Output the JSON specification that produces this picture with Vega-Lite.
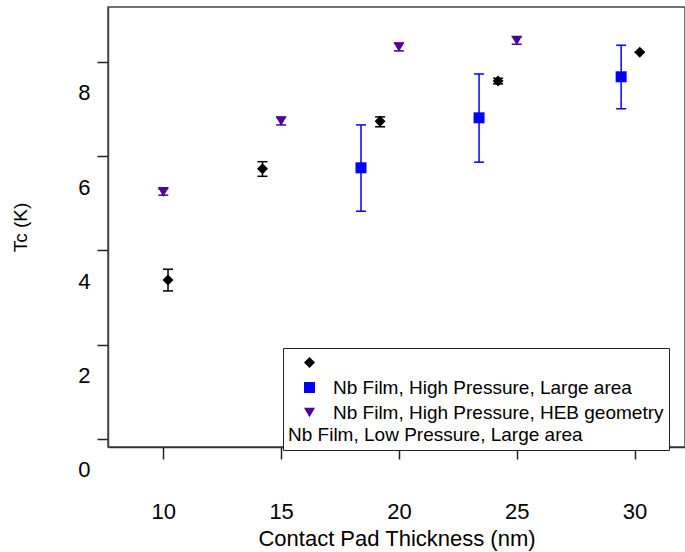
{
  "$schema": "https://vega.github.io/schema/vega-lite/v6.json",
  "width": 577,
  "height": 440,
  "autosize": {"type": "none"},
  "padding": {"left": 108, "top": 7, "right": 0, "bottom": 105},
  "background": "white",
  "config": {
    "view": {"stroke": "#444", "strokeWidth": 1.5},
    "font": "Liberation Sans",
    "legend": {
      "labelFontSize": 19,
      "labelFont": "Liberation Sans",
      "labelColor": "black",
      "labelLimit": 0,
      "titleLimit": 0
    }
  },
  "data": {
    "values": [
      {"series": "Nb Film, High Pressure, Large area", "t": 10.2, "tc": 3.37, "lo": 3.14, "hi": 3.6},
      {"series": "Nb Film, High Pressure, Large area", "t": 14.21, "tc": 5.73, "lo": 5.57, "hi": 5.88},
      {"series": "Nb Film, High Pressure, Large area", "t": 19.2, "tc": 6.74, "lo": 6.62, "hi": 6.83},
      {"series": "Nb Film, High Pressure, Large area", "t": 24.21, "tc": 7.59, "lo": 7.53, "hi": 7.65},
      {"series": "Nb Film, High Pressure, Large area", "t": 30.22, "tc": 8.2, "lo": 8.2, "hi": 8.2},
      {"series": "Nb Film, High Pressure, HEB geometry", "t": 18.39, "tc": 5.75, "lo": 4.83, "hi": 6.66},
      {"series": "Nb Film, High Pressure, HEB geometry", "t": 23.4, "tc": 6.81, "lo": 5.87, "hi": 7.74},
      {"series": "Nb Film, High Pressure, HEB geometry", "t": 29.43, "tc": 7.68, "lo": 7.0, "hi": 8.35},
      {"series": "Nb Film, Low Pressure, Large area", "t": 10, "tc": 5.24, "lo": 5.17, "hi": 5.3},
      {"series": "Nb Film, Low Pressure, Large area", "t": 15, "tc": 6.74, "lo": 6.66, "hi": 6.82},
      {"series": "Nb Film, Low Pressure, Large area", "t": 20, "tc": 8.31, "lo": 8.23, "hi": 8.39},
      {"series": "Nb Film, Low Pressure, Large area", "t": 25, "tc": 8.45, "lo": 8.37, "hi": 8.53}
    ]
  },
  "encoding": {
    "x": {"field": "t", "type": "quantitative",
      "scale": {"domain": [7.653, 32.14], "nice": false, "zero": false},
      "axis": {"orient": "bottom", "values": [10, 15, 20, 25, 30], "title": "Contact Pad Thickness (nm)",
        "grid": false, "domainColor": "#333", "domainWidth": 1.5, "tickColor": "#222", "tickWidth": 1.5, "tickSize": 12,
        "labelPadding": 52, "labelBaseline": "middle", "labelFontSize": 22, "labelColor": "black", "labelFlush": false, "labelOverlap": false,
        "titleFontSize": 22, "titleFontWeight": "normal", "titleColor": "black", "titleY": 91, "titleBaseline": "middle"}}
  },
  "layer": [
    {
      "mark": {"type": "rule", "strokeWidth": 1.5},
      "encoding": {
        "y": {"field": "lo", "type": "quantitative",
          "scale": {"domain": [-0.17, 9.16], "nice": false, "zero": false},
          "axis": {"orient": "left", "values": [0, 2, 4, 6, 8], "title": "Tc (K)",
            "grid": false, "domainColor": "#444", "domainWidth": 1.5, "tickColor": "#222", "tickWidth": 1.5, "tickSize": 11,
            "labelOffset": 31, "labelPadding": 7, "labelFontSize": 22, "labelColor": "black", "labelFlush": false, "labelOverlap": false,
            "titleFontSize": 19, "titleFontWeight": "normal", "titleColor": "black", "titleX": -88, "titleY": 220, "titleBaseline": "middle", "titleAngle": 270}},
        "y2": {"field": "hi"},
        "stroke": {"field": "series", "type": "nominal", "legend": null,
          "scale": {"domain": ["Nb Film, High Pressure, HEB geometry", "Nb Film, Low Pressure, Large area", "Nb Film, High Pressure, Large area"], "range": ["#0000ff", "#4c0099", "#000000"]}}
      }
    },
    {
      "mark": {"type": "tick", "orient": "horizontal", "size": 10, "thickness": 1.5, "opacity": 1},
      "encoding": {
        "y": {"field": "lo", "type": "quantitative"},
        "fill": {"field": "series", "type": "nominal", "legend": null,
          "scale": {"domain": ["Nb Film, Low Pressure, Large area", "Nb Film, High Pressure, Large area", "Nb Film, High Pressure, HEB geometry"], "range": ["#4c0099", "#000000", "#0000ff"]}}
      }
    },
    {
      "mark": {"type": "tick", "orient": "horizontal", "size": 10, "thickness": 1.5, "opacity": 1},
      "encoding": {
        "y": {"field": "hi", "type": "quantitative"},
        "fill": {"field": "series", "type": "nominal", "legend": null}
      }
    },
    {
      "mark": {"type": "point", "filled": true, "opacity": 1, "size": 121},
      "encoding": {
        "y": {"field": "tc", "type": "quantitative"},
        "color": {"field": "series", "type": "nominal",
          "scale": {"domain": ["Nb Film, High Pressure, Large area", "Nb Film, High Pressure, HEB geometry", "Nb Film, Low Pressure, Large area"], "range": ["#000000", "#0000ff", "#4c0099"]},
          "legend": {"title": "\u00a0\u00a0\u00a0\u00a0\u00a0\u00a0\u00a0\u00a0Nb Film, Low Pressure, Large area", "titleOrient": "bottom", "titleAnchor": "start", "titleFontSize": 19, "titleFontWeight": "normal", "titleColor": "black", "titleFont": "Liberation Sans", "titleBaseline": "top", "titlePadding": 3,
            "orient": "none", "legendX": 175, "legendY": 341, "padding": 5,
            "strokeColor": "#222", "fillColor": "white", "symbolSize": 121, "symbolOffset": 12, "labelOffset": 14, "rowPadding": 5,
            "labelExpr": "datum.index == 0 ? '' : datum.index == 1 ? 'Nb Film, High Pressure, Large area' : 'Nb Film, High Pressure, HEB geometry'"}},
        "shape": {"field": "series", "type": "nominal",
          "scale": {"domain": ["Nb Film, High Pressure, Large area", "Nb Film, High Pressure, HEB geometry", "Nb Film, Low Pressure, Large area"], "range": ["diamond", "square", "triangle-down"]},
          "legend": {"title": "\u00a0\u00a0\u00a0\u00a0\u00a0\u00a0\u00a0\u00a0Nb Film, Low Pressure, Large area", "titleOrient": "bottom", "titleAnchor": "start", "titleFontSize": 19, "titleFontWeight": "normal", "titleColor": "black", "titleFont": "Liberation Sans", "titleBaseline": "top", "titlePadding": 3,
            "orient": "none", "legendX": 175, "legendY": 341, "padding": 5,
            "strokeColor": "#222", "fillColor": "white", "symbolSize": 121, "symbolOffset": 12, "labelOffset": 14, "rowPadding": 5,
            "labelExpr": "datum.index == 0 ? '' : datum.index == 1 ? 'Nb Film, High Pressure, Large area' : 'Nb Film, High Pressure, HEB geometry'"}}
      }
    }
  ]
}
